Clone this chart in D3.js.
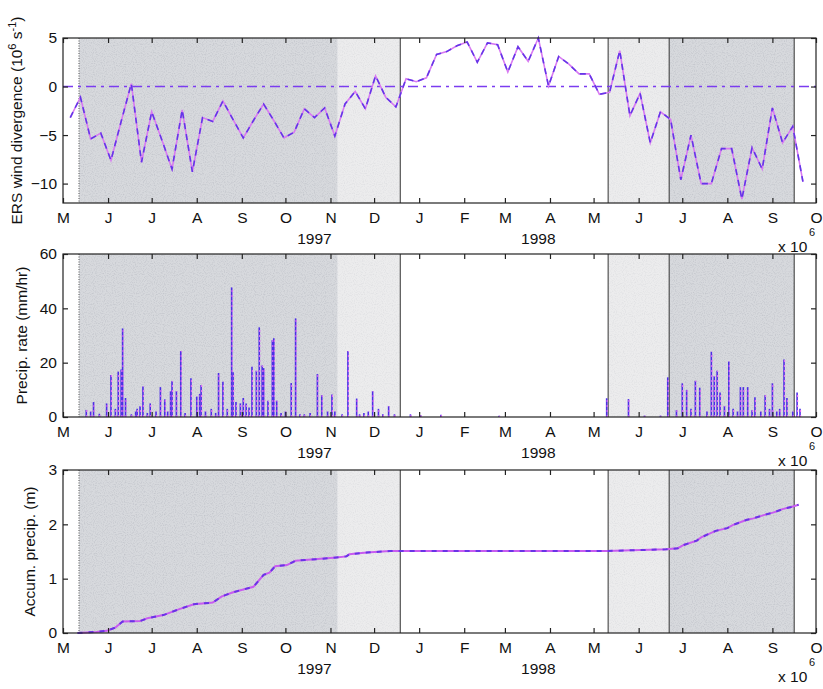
<!DOCTYPE html>
<html><head><meta charset="utf-8">
<script src="https://cdn.jsdelivr.net/npm/d3@7"></script>
<style>
body{margin:0;background:#fff}
svg{display:block}
text{font-family:"Liberation Sans",Arial,Helvetica,sans-serif;fill:#111}
</style>
</head><body>
<svg id="chart" width="823" height="689"></svg>
<script>
// ---------------- DATA ----------------
const monthLabels = ["M","J","J","A","S","O","N","D","J","F","M","A","M","J","J","A","S","O"];
const yearLabels = ["1997","1998"];
const yearLabelDay = [173, 327];            // days after 1997-05-01 where the year label is centred
const divTicks = [-10, -5, 0, 5];
const rateTicks = [0, 20, 40, 60];
const accumTicks = [0, 1, 2, 3];

// weekly ERS wind divergence (x 10^-6 s^-1), first sample 1997-05-06
const divFirstDay = 5;
const divergence = [
  -3.2,-1.1,-5.4,-4.8,-7.6,-3.6,0.3,-7.8,-2.6,-5.5,
  -8.5,-2.4,-8.8,-3.2,-3.6,-1.5,-3.4,-5.3,-3.5,-1.8,
  -3.5,-5.3,-4.7,-2.3,-3.2,-2.2,-5.1,-1.8,-0.5,-2.3,
  1.1,-1.1,-2.1,0.8,0.5,0.9,3.3,3.6,4.2,4.6,
  2.5,4.5,4.3,1.5,4.1,2.6,5.0,0.05,3.1,2.3,
  1.3,1.3,-0.8,-0.6,3.7,-3.0,-0.7,-5.8,-2.6,-3.4,
  -9.6,-5.0,-10.0,-10.0,-6.4,-6.4,-11.6,-6.3,-8.5,-2.2,
  -5.8,-4.1,-9.8
];

// precipitation rate spikes (days after 1997-05-01, mm/hr)
const precipDay = [
  16,19,21,25,30,33,36,38,40,41,43,47,50,51,53,55,58,60,64,67,70,72,74,75,78,81,84,88,92,94,95,98,102,
  105,107,110,113,116,117,119,122,124,126,128,130,133,135,137,138,141,144,145,147,150,153,157,160,163,166,
  170,175,178,182,185,187,192,196,202,204,207,210,213,217,220,224,228,239,
  246,260,300,374,389,400,411,416,
  422,426,429,432,435,438,443,446,448,450,452,455,458,461,464,466,468,471,474,476,480,483,486,488,491,493,
  496,498,502,505,507
];
const precipRate = [
  2.6,2.0,5.5,1.2,5.0,15.5,3.0,16.7,17.5,32.6,7.0,1.0,2.0,3.0,4.0,11.2,1.5,5.0,2.0,11.0,6.5,2.0,9.5,13.2,9.5,24.3,1.5,14.3,7.5,8.5,11.8,2.0,3.0,
  1.5,16.2,13.0,3.0,47.7,16.5,5.5,5.0,7.0,5.0,3.5,18.5,17.0,33.0,19.0,18.0,6.0,28.3,29.0,6.0,1.5,2.0,12.5,36.3,1.0,1.0,
  1.5,15.8,8.0,2.0,8.3,2.0,1.0,24.3,6.8,1.0,1.5,2.0,9.5,3.0,1.0,4.0,1.0,1.0,
  0.6,0.8,0.5,6.9,6.6,0.5,0.5,14.6,
  2.5,12.4,10.0,3.0,13.3,10.8,2.0,24.0,15.0,17.0,9.0,4.0,20.4,3.0,2.0,11.0,11.0,11.0,2.5,7.3,2.0,8.0,3.0,12.4,2.0,3.0,
  21.2,7.0,2.0,9.0,3.0
];

// accumulated precipitation (days after 1997-05-01, m)
const accumDay = [10,23,30,36,41,53,58,69,80,90,103,109,117,131,138,142,146,154,160,175,188,195,197,209,225,
  232,300,374,415,423,427,436,439,449,457,461,470,475,482,489,495,501,506];
const accumPrecip = [0.0,0.02,0.04,0.1,0.21,0.22,0.27,0.33,0.44,0.53,0.56,0.67,0.75,0.85,1.07,1.11,1.23,1.25,1.33,1.36,1.39,1.41,1.45,1.48,1.51,
  1.51,1.51,1.51,1.54,1.56,1.62,1.70,1.76,1.88,1.93,1.99,2.08,2.11,2.17,2.22,2.28,2.32,2.36];

// observation periods (days after 1997-05-01)
const shadeStartDay = [11, 189, 375, 417];
const shadeEndDay   = [189, 232, 417, 503];
const shadeTone     = ["dark", "light", "light", "dark"];
const boundaryDay   = [232, 375, 417, 503];
const dottedBoundaryDay = [11];

// ---------------- CHART ----------------
const base = new Date(1997, 4, 1);
const dayToDate = d => d3.timeDay.offset(base, d);
const svg = d3.select("#chart");
const X0 = 63, X1 = 816;
const x = d3.scaleTime().domain([base, new Date(1998, 9, 1)]).range([X0, X1]);
const months = d3.timeMonth.range(base, new Date(1998, 9, 2));

const panels = [
  {top: 38, bot: 203, domain: [-12, 5], ticks: divTicks, label: "div", labelX: 22},
  {top: 254, bot: 417, domain: [0, 60], ticks: rateTicks, label: "Precip. rate (mm/hr)", labelX: 27},
  {top: 470, bot: 633, domain: [0, 3], ticks: accumTicks, label: "Accum. precip. (m)", labelX: 35}
];
const toneColor = {dark: "#d7d9dd", light: "#ececed"};
const toneGrain = {dark: 0.42, light: 0.2};

// subtle stipple texture
const defs = svg.append("defs");
const filt = defs.append("filter").attr("id", "grain").attr("x", 0).attr("y", 0).attr("width", 1).attr("height", 1);
filt.append("feTurbulence").attr("type", "fractalNoise").attr("baseFrequency", 0.9).attr("numOctaves", 1).attr("seed", 3).attr("result", "n");
filt.append("feColorMatrix").attr("in", "n").attr("type", "matrix")
  .attr("values", "0 0 0 0 0.35  0 0 0 0 0.37  0 0 0 0 0.42  0 0 0 -2.2 1.2");
filt.append("feComposite").attr("in2", "SourceGraphic").attr("operator", "in");

panels.forEach((p, pi) => {
  const y = d3.scaleLinear().domain(p.domain).range([p.bot, p.top]);
  p.y = y;
  const g = svg.append("g");

  // shading
  shadeStartDay.forEach((s, i) => {
    const xa = x(dayToDate(s)), xb = x(dayToDate(shadeEndDay[i]));
    g.append("rect").attr("x", xa).attr("y", p.top).attr("width", xb - xa).attr("height", p.bot - p.top)
      .attr("fill", toneColor[shadeTone[i]]);
    g.append("rect").attr("x", xa).attr("y", p.top).attr("width", xb - xa).attr("height", p.bot - p.top)
      .attr("fill", "#fff").attr("filter", "url(#grain)").attr("opacity", toneGrain[shadeTone[i]]);
  });
  boundaryDay.forEach(d => {
    g.append("line").attr("x1", x(dayToDate(d))).attr("x2", x(dayToDate(d)))
      .attr("y1", p.top).attr("y2", p.bot).attr("stroke", "#333").attr("stroke-width", 1);
  });
  dottedBoundaryDay.forEach(d => {
    g.append("line").attr("x1", x(dayToDate(d))).attr("x2", x(dayToDate(d)))
      .attr("y1", p.top).attr("y2", p.bot).attr("stroke", "#555").attr("stroke-width", 1)
      .attr("stroke-dasharray", "1,1.5");
  });

  // data
  if (pi === 0) {
    g.append("line").attr("x1", X0).attr("x2", X1).attr("y1", y(0)).attr("y2", y(0))
      .attr("stroke", "#7b3cf0").attr("stroke-width", 1.6).attr("stroke-dasharray", "10,5,3,5");
    const pts = divergence.map((v, i) => [x(dayToDate(divFirstDay + 7 * i)), y(v)]);
    const line = d3.line();
    g.append("path").attr("d", line(pts)).attr("fill", "none").attr("stroke", "#d77af2").attr("stroke-width", 1.6);
    g.append("path").attr("d", line(pts)).attr("fill", "none").attr("stroke", "#6436e8").attr("stroke-width", 1.6)
      .attr("stroke-dasharray", "6,5");
  } else if (pi === 1) {
    precipDay.forEach((d, i) => {
      const xx = x(dayToDate(d));
      g.append("line").attr("x1", xx).attr("x2", xx).attr("y1", y(0)).attr("y2", y(precipRate[i]))
        .attr("stroke", "#4d2ee6").attr("stroke-width", 1.6);
      g.append("line").attr("x1", xx + 0.5).attr("x2", xx + 0.5).attr("y1", y(0)).attr("y2", y(precipRate[i]))
        .attr("stroke", "#e06ef2").attr("stroke-width", 1.2).attr("stroke-dasharray", "2,3");
    });
  } else {
    const pts = accumDay.map((d, i) => [x(dayToDate(d)), y(accumPrecip[i])]);
    const line = d3.line();
    g.append("path").attr("d", line(pts)).attr("fill", "none").attr("stroke", "#c85cf0").attr("stroke-width", 2);
    g.append("path").attr("d", line(pts)).attr("fill", "none").attr("stroke", "#6a34e6").attr("stroke-width", 2)
      .attr("stroke-dasharray", "5,6");
  }

  // frame
  g.append("rect").attr("x", X0).attr("y", p.top).attr("width", X1 - X0).attr("height", p.bot - p.top)
    .attr("fill", "none").attr("stroke", "#222").attr("stroke-width", 1.2);

  // axes
  const axB = d3.axisBottom(x).tickValues(months).tickSize(-5).tickPadding(9)
    .tickFormat((d, i) => monthLabels[i]);
  const gb = g.append("g").attr("transform", `translate(0,${p.bot})`).call(axB);
  const axT = d3.axisTop(x).tickValues(months).tickSize(-5).tickFormat("");
  const gt = g.append("g").attr("transform", `translate(0,${p.top})`).call(axT);
  const axL = d3.axisLeft(y).tickValues(p.ticks).tickSize(-5).tickPadding(6).tickFormat(d3.format("d"));
  const gl = g.append("g").attr("transform", `translate(${X0},0)`).call(axL);
  const axR = d3.axisRight(y).tickValues(p.ticks).tickSize(-5).tickFormat("");
  const gr = g.append("g").attr("transform", `translate(${X1},0)`).call(axR);
  [gb, gt, gl, gr].forEach(a => {
    a.select(".domain").remove();
    a.selectAll("line").attr("stroke", "#222").attr("stroke-width", 1.2);
    a.selectAll("text").attr("font-size", 15.5).attr("font-family", "Liberation Sans, Arial, sans-serif").attr("fill", "#111");
  });

  // year labels
  yearLabels.forEach((t, i) => {
    g.append("text").attr("x", x(dayToDate(yearLabelDay[i]))).attr("y", p.bot + 41)
      .attr("text-anchor", "middle").attr("font-size", 15.5).text(t);
  });

  // exponent note
  g.append("text").attr("x", 778).attr("y", p.bot + 49).attr("font-size", 15.5).text("x 10");
  g.append("text").attr("x", 809).attr("y", p.bot + 33).attr("font-size", 11).text("6");

  // y label
  const cy = (p.top + p.bot) / 2;
  const lt = g.append("text").attr("transform", `translate(${p.labelX},${cy}) rotate(-90)`)
    .attr("text-anchor", "middle").attr("font-size", 15.5);
  if (p.label === "div") {
    lt.append("tspan").text("ERS wind divergence (10");
    lt.append("tspan").attr("dy", -6).attr("font-size", 11).text("6");
    lt.append("tspan").attr("dy", 6).text(" s");
    lt.append("tspan").attr("dy", -6).attr("font-size", 11).text("-1");
    lt.append("tspan").attr("dy", 6).text(")");
  } else {
    lt.text(p.label);
  }
});
</script>
</body></html>
